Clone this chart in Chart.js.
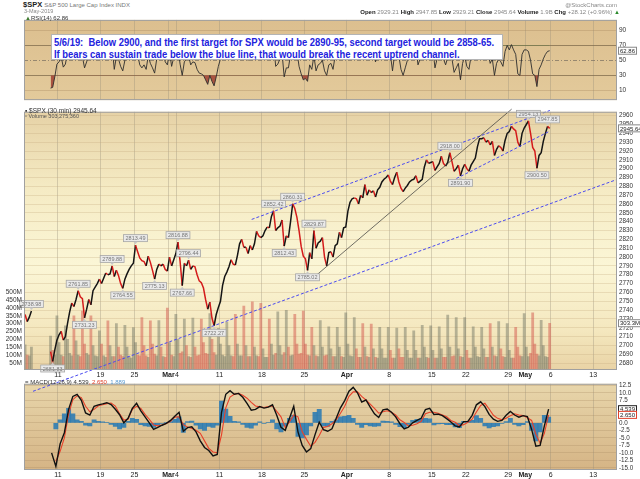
<!DOCTYPE html>
<html>
<head>
<meta charset="utf-8">
<script src="https://cdn.jsdelivr.net/npm/chart.js@4.4.1/dist/chart.umd.min.js"></script>
<style>
  body { margin: 0; background: #fff; font-family: 'Liberation Sans', Arial, sans-serif; }
  #wrap { position: relative; width: 640px; height: 479px; overflow: hidden; }
  canvas { position: absolute; left: 0; }
  .t { position: absolute; white-space: nowrap; line-height: 1; }
  #note { position: absolute; left: 51px; top: 34px; width: 452px; height: 26px; background: #fff;
          border: 1px solid #b4b4b4; box-sizing: border-box; color: #2222dd;
          font: bold 10px 'Liberation Sans Narrow', 'Liberation Sans', sans-serif; padding: 2px 0 0 2px; }
  #note span { display: inline-block; transform-origin: left center; white-space: nowrap; line-height: 10.5px; }
</style>
</head>
<body>
<div id="wrap">
  <canvas id="rsi" width="640" height="92" style="top:14px"></canvas>
  <canvas id="main" width="640" height="273" style="top:106px"></canvas>
  <canvas id="macd" width="640" height="101" style="top:378px"></canvas>

  <div class="t" style="left:23px;top:1px;font-size:7.5px;color:#222"><b>$SPX</b> <span style="color:#777;font-size:6px">S&amp;P 500 Large Cap Index INDX</span></div>
  <div class="t" style="left:24px;top:8.5px;font-size:5.5px;color:#888">3-May-2019</div>
  <div class="t" style="right:23px;top:2px;font-size:6px;color:#888">@StockCharts.com</div>
  <div class="t" style="right:20px;top:8.5px;font-size:6px;color:#888"><b style="color:#222">Open</b> 2929.21 <b style="color:#222">High</b> 2947.85 <b style="color:#222">Low</b> 2929.21 <b style="color:#222">Close</b> 2945.64 <b style="color:#222">Volume</b> 1.9B <b style="color:#222">Chg</b> +28.12 (+0.96%) <span style="color:#2a8a2a">&#9650;</span></div>

  <div class="t" style="left:25px;top:15px;font-size:6px;color:#333"><span style="color:#3d7a2e">&#9650;</span>RSI(14) 62.86</div>
  <div class="t" style="left:25px;top:108px;font-size:6.5px;color:#333">&#9642; $SPX (30 min) 2945.64</div>
  <div class="t" style="left:25px;top:114px;font-size:5.5px;color:#555">&#9643; Volume 303,275,360</div>
  <div class="t" style="left:25px;top:379px;font-size:6px;color:#333">= MACD(12,26,9) 4.539<span style="color:#e0402a">, 2.650</span><span style="color:#5a9ad0">, 1.889</span></div>

  <div id="note">
    <span id="l1">5/6/19:&nbsp; Below 2900, and the first target for SPX would be 2890-95, second target would be 2858-65.</span><br>
    <span id="l2">If bears can sustain trade below the blue line, that would break the recent uptrend channel.</span>
  </div>
</div>

<script>
// trading days, Feb 5 .. May 3 (x = day index)
const tradingDays = ['Feb 5','Feb 6','Feb 7','Feb 8','Feb 11','Feb 12','Feb 13','Feb 14','Feb 15','Feb 19',
  'Feb 20','Feb 21','Feb 22','Feb 25','Feb 26','Feb 27','Feb 28','Mar 1','Mar 4','Mar 5','Mar 6','Mar 7','Mar 8',
  'Mar 11','Mar 12','Mar 13','Mar 14','Mar 15','Mar 18','Mar 19','Mar 20','Mar 21','Mar 22','Mar 25','Mar 26',
  'Mar 27','Mar 28','Mar 29','Apr 1','Apr 2','Apr 3','Apr 4','Apr 5','Apr 8','Apr 9','Apr 10','Apr 11','Apr 12',
  'Apr 15','Apr 16','Apr 17','Apr 18','Apr 22','Apr 23','Apr 24','Apr 25','Apr 26','Apr 29','Apr 30','May 1',
  'May 2','May 3'];

const tickDays   = [4, 9, 13, 17, 18, 23, 28, 33, 38, 43, 48, 52, 57, 59, 62, 67];
const tickLabels = ['11','19','25','Mar','4','11','18','25','Apr','8','15','22','29','May','6','13'];
const monthLabels = ['Mar', 'Apr', 'May'];

const priceTicks = [2680,2690,2700,2710,2720,2730,2740,2750,2760,2770,2780,2790,2800,2810,2820,2830,
  2840,2850,2860,2870,2880,2890,2900,2910,2920,2930,2940,2950,2960];
const volTicks  = [50,100,150,200,250,300,350,400,450,500];
const rsiTicks  = [10,30,50,70,90];
const macdTicks = [-15,-12.5,-10,-7.5,-5,-2.5,0,2.5,5,7.5,10,12.5];

// SPX, four samples per trading day
const spxPrice = [
  [2735,2727,2732,2738.98],[null,null,null,null],[null,null,null,null],[2693,2681.83,2695,2706],
  [2712,2716,2706,2710],[2725,2738,2748,2744],[2752,2761.85,2755,2753],[2731.23,2741,2752,2746],
  [2762,2766,2770,2775],[2770,2776,2782,2780],[2781,2789.88,2778,2785],[2779,2770,2764.55,2775],
  [2781,2786,2790,2793],[2813.49,2806,2799,2796],[2795,2790,2801,2794],[2785,2775.13,2786,2792],
  [2790,2792,2786,2784],[2800,2790,2797,2804],[2816.88,2795,2767.66,2793],[2790,2796.44,2786,2790],
  [2789,2780,2773,2771],[2765,2752,2741,2749],[2731,2722.27,2735,2743],[2750,2768,2778,2783],
  [2789,2797,2792,2791],[2802,2815,2820,2811],[2811,2804,2813,2808],[2815,2829,2824,2822],
  [2824,2830,2834,2833],[2846,2852.42,2830,2833],[2835,2842,2812.43,2824],[2822,2840,2860.31,2855],
  [2845,2830,2812,2801],[2798,2785.02,2805,2798],[2829.87,2810,2816,2818],[2822,2800,2790,2805],
  [2806,2800,2813,2815],[2828,2822,2833,2834],[2852,2862,2866,2867],[2866,2860,2870,2867],
  [2882,2870,2876,2873],[2875,2868,2876,2879],[2885,2888,2890,2893],[2886,2882,2890,2896],
  [2885,2878,2874,2878],[2881,2885,2887,2888],[2892,2884,2886,2888],[2902,2910,2906,2907],
  [2908,2898,2902,2906],[2914,2906,2903,2907],[2918,2908,2897,2900],[2904,2891.9,2900,2905],
  [2900,2897,2904,2908],[2912,2925,2934,2934],[2935,2930,2932,2927],[2931,2915,2922,2926],
  [2924,2920,2932,2940],[2942,2948,2945,2943],[2930,2925,2940,2946],[2950,2954.13,2940,2924],
  [2920,2900.5,2915,2918],[2931,2940,2947.85,2945.64]
];

// volume in millions, four bars per day (last bar = closing spike)
const spxVolume = [
  [165,100,95,150],[null,null,null,null],[null,null,null,null],[220,130,100,350],
  [180,100,90,287],[200,110,95,350],[190,100,90,381],[170,110,100,350],[160,95,90,255],[170,95,85,318],
  [160,90,90,300],[150,100,90,290],[150,90,80,275],[180,100,95,339],[160,95,85,318],[170,105,95,320],
  [150,90,85,400],[180,100,90,360],[200,110,120,329],[160,90,85,335],[150,95,100,329],[180,110,105,365],
  [200,115,100,270],[170,100,90,310],[160,95,90,360],[170,95,95,412],[160,90,90,440],[150,95,90,430],
  [140,85,85,330],[170,100,110,375],[160,100,115,385],[150,95,100,360],[170,105,110,380],[170,100,95,276],
  [160,95,90,320],[150,95,100,280],[140,90,90,276],[150,90,85,370],[170,95,90,339],[140,85,85,301],
  [150,90,85,297],[140,85,80,276],[140,80,80,276],[130,80,80,272],[140,85,85,276],[130,80,80,255],
  [130,80,80,290],[150,85,80,286],[130,80,80,280],[140,85,85,355],[150,90,95,339],[140,90,85,339],
  [130,80,80,280],[150,90,85,276],[140,85,85,301],[150,95,90,314],[140,90,85,301],[130,80,80,276],
  [150,95,90,364],[150,90,110,370],[170,105,95,322],[160,90,85,303]
];

// RSI(14), four samples per day
const rsiValues = [
  [null,null,null,null],[null,null,null,null],[null,null,null,null],[13,14,28,45],
  [48,55,41,45],[62,70,72,68],[66,70,58,55],[40,48,60,55],[62,63,66,70],[58,62,66,63],
  [62,68,38,55],[52,42,36,50],[56,62,66,68],[74,58,44,40],[44,38,56,46],[40,33,52,58],
  [57,60,48,44],[62,42,54,62],[66,45,30,48],[52,56,44,48],[47,38,33,32],[30,24,18,30],
  [22,16,28,42],[52,66,72,74],[72,74,66,64],[68,74,76,60],[58,50,62,56],[60,70,64,62],
  [62,66,68,67],[72,74,42,45],[52,60,28,40],[40,58,74,70],[62,42,32,24],[26,22,44,38],
  [56,36,44,46],[50,36,30,44],[46,38,56,58],[62,52,64,64],[72,76,76,75],[70,58,70,64],
  [79,56,62,58],[58,48,60,64],[66,68,70,72],[58,36,58,68],[56,38,30,40],[50,60,64,66],
  [68,44,52,55],[70,76,64,66],[66,40,52,60],[70,52,44,54],[68,52,34,40],[46,24,46,56],
  [42,38,56,62],[66,76,81,76],[72,54,60,46],[52,30,46,52],[48,42,62,70],[64,71,64,58],
  [32,30,58,64],[64,62,50,32],[30,15,38,44],[52,58,62,62.86]
];

// MACD(12,26,9), two samples per day
const macdLine = [
  [null,null],[null,null],[null,null],[-10,-14.5],[-7,-3.3],[4.5,8.8],[9.5,7.5],[3.3,2.6],[5.5,6],[6.3,6.7],
  [6.1,4.5],[2.7,0],[1.5,4.8],[6.5,4],[2,0],[-2.2,-1.5],[-0.8,-0.2],[0.8,2.2],[3.5,-2.8],[-1.6,-1.3],
  [-3,-6],[-8.2,-9.2],[-11,-10.5],[3.5,9.5],[10.7,9.5],[9.8,8.5],[6.5,4.2],[4.5,5.4],[4.9,5.2],[6,2.5],
  [-1.5,-2.5],[1.5,5.5],[-3,-7.5],[-9.7,-8.6],[-4,0.2],[-2.3,-2.8],[-2,1.5],[5,7.4],[10.5,11.8],[10,6.9],
  [7.6,5.2],[3,1.8],[4.3,4.6],[3.5,2],[-0.3,-2],[-1.4,0],[0.8,1.5],[4.4,4.8],[2.8,2.9],[2.4,1.4],
  [0.3,-1],[-1.4,0.4],[0.5,2.5],[6,7],[5.4,2.8],[1.2,0.5],[0.8,2.5],[3.8,2.6],[1.9,2.4],[2.1,-2.2],
  [-7.8,-7.5],[-1,4.54]
];
const macdSignal = [
  [null,null],[null,null],[null,null],[null,-12.8],[-9.5,-5],[2.9,7.7],[9,8.4],[5.5,3.7],[4.5,5.7],[6,6.4],
  [6.6,5.6],[3,0.9],[1.2,4.5],[5.5,4.8],[2.8,1.2],[-0.7,-1],[-0.7,-0.2],[0.5,1.9],[2,-0.6],[-1.4,-1.9],
  [-2.5,-3.5],[-6,-8.5],[-9.7,-10],[-4,5],[8.6,9.5],[9.8,9.2],[8.2,6.8],[5.6,5.3],[5.1,5.4],[5.6,3.8],
  [2,-1.6],[0.3,2.6],[2,-3],[-5.5,-7.8],[-6.5,-4.2],[-1.5,-1.2],[-0.3,1],[3.2,5.5],[8.8,10.3],[10.3,8.8],
  [7.6,6.2],[4.8,3.2],[3.7,4],[3.5,2.6],[1,0.1],[-1,-0.8],[-0.3,0.5],[3,3.5],[3.5,3.2],[2.6,2],
  [0.8,0.2],[-0.9,-0.6],[0.2,1.2],[3.6,5.8],[6.5,4.6],[2.5,1.5],[1,1.5],[2.4,3],[2.6,2.4],[1.7,0.8],
  [-3.8,-6.8],[-3.5,2.65]
];
const macdHist = [
  [null,null],[null,null],[null,null],[null,-2],[1,3],[4.8,3],[1,0.5],[-0.8,-1],[1,0.5],[0.3,0.2],
  [-0.5,-1.2],[-2,-1.5],[0.5,1.5],[1.2,-0.6],[-1,-1.2],[-1.5,-0.8],[-0.2,0.1],[0.4,1.2],[2,-3.2],[0.4,0.6],
  [-0.8,-2],[-2.5,-1.2],[-1.5,-0.8],[7.2,4.6],[2.2,0.5],[0.3,-0.5],[-1.5,-1.8],[-0.8,0.3],[-0.2,0.2],[1,-2],
  [-3,-1],[1.5,2.5],[-4.5,-5],[-4,-1],[3.5,4.5],[-1,-1.2],[0.5,1],[2,2.2],[2.5,1.5],[-0.5,-1.5],
  [-0.6,-1],[-1.2,-1],[0.6,0.5],[0.3,-0.5],[-1.3,-1.6],[-0.5,0.8],[1.2,1.3],[1.5,1.3],[-0.7,-0.4],[-0.3,-0.6],
  [-0.6,-1.4],[-1.6,0.5],[0.4,0.8],[2.4,1.5],[-1,-1.7],[-1.3,-1],[-0.2,0.4],[1.5,-0.5],[-1,-0.6],[0.4,-2.5],
  [-6,-3],[2.5,1.9]
];

// daily high / low annotations
const tagDays   = [0.875,3.375,6.375,7.125,10.375,11.625,13.125,15.375,18.125,18.625,19.375,22.375,
                   29.375,30.625,31.625,33.375,34.125,50.125,51.375,59.375,60.375,61.625];
const tagValues = [2738.98,2681.83,2761.85,2731.23,2789.88,2764.55,2813.49,2775.13,2816.88,2767.66,2796.44,
                   2722.27,2852.42,2812.43,2860.31,2785.02,2829.87,2918.00,2891.90,2954.13,2900.50,2947.85];
const tagIsHigh = [1,0,1,0,1,0,1,0,1,0,1,0,1,0,1,0,1,1,0,1,0,1];

// hand drawn trend lines (day index, price)
const trendFromDay   = [26.8, 50.9, 1.06, 34.35];
const trendFromPrice = [2842.6, 2888.9, 2648.1, 2778.9];
const trendToDay     = [61.9, 61.9, 69.8, 57.4];
const trendToPrice   = [2965.9, 2942.6, 2887.8, 2967.4];
const trendColor = ['#4a4af0', '#4a4af0', '#4a4af0', '#333'];
const trendDash  = [[3, 2], [3, 2], [3, 2], []];

function flatten(rows) {
  const out = [];
  rows.forEach((row, d) => row.forEach((v, k) => out.push({ x: d + (k + 0.5) / row.length, y: v })));
  return out;
}

const pricePts = flatten(spxPrice);
const volPts = flatten(spxVolume);
const volColors = pricePts.map((p, i) => {
  const prev = i > 0 ? pricePts[i - 1].y : null;
  return (prev !== null && p.y !== null && p.y < prev) ? 'rgba(214,98,86,0.55)' : 'rgba(118,122,104,0.5)';
});

Chart.defaults.font.family = "'Liberation Sans', Arial, sans-serif";

const panelBg = {
  id: 'panelBg',
  beforeDraw(chart, args, opts) {
    const { ctx, chartArea: a } = chart;
    const g = ctx.createLinearGradient(0, a.top, 0, a.bottom);
    opts.stops.forEach(s => g.addColorStop(s[0], s[1]));
    ctx.save();
    ctx.fillStyle = g;
    ctx.fillRect(a.left, a.top, a.width, a.height);
    ctx.restore();
  },
  afterDraw(chart) {
    const { ctx, chartArea: a } = chart;
    ctx.save();
    ctx.strokeStyle = '#a0a0a0';
    ctx.lineWidth = 1;
    ctx.strokeRect(a.left + 0.5, a.top + 0.5, a.width - 1, a.height - 1);
    ctx.restore();
  }
};
Chart.register(panelBg);

const fixW = w => s => { s.width = w; };
const fixH = h => s => { s.height = h; };

function xAxis(showLabels) {
  return {
    type: 'linear', min: 0, max: 69.8, offset: false,
    afterBuildTicks: s => { s.ticks = tickDays.map(v => ({ value: v })); },
    ticks: {
      display: showLabels, autoSkip: false, maxRotation: 0, padding: 1, color: '#222',
      callback: v => tickLabels[tickDays.indexOf(v)],
      font: c => ({ size: 7, weight: c.tick && monthLabels.includes(c.tick.label) ? 'bold' : 'normal' })
    },
    grid: { color: 'rgba(150,140,120,0.35)', drawTicks: false, offset: false },
    border: { display: false },
    afterFit: fixH(showLabels ? 9 : 0)
  };
}

function valueTag(ctx, x, y, text, border) {
  ctx.save();
  ctx.font = "6px 'Liberation Sans'";
  const w = ctx.measureText(text).width + 4;
  ctx.fillStyle = '#fff';
  ctx.fillRect(x, y - 4, w, 8);
  ctx.strokeStyle = border;
  ctx.lineWidth = 1;
  ctx.strokeRect(x + 0.5, y - 3.5, w - 1, 7);
  ctx.fillStyle = '#222';
  ctx.textBaseline = 'middle';
  ctx.fillText(text, x + 2, y + 0.5);
  ctx.restore();
}

function drawTrends(ctx, xs, ys, dy) {
  trendFromDay.forEach((d0, i) => {
    ctx.save();
    ctx.strokeStyle = trendColor[i];
    ctx.lineWidth = i === 3 ? 0.7 : 1;
    ctx.setLineDash(trendDash[i]);
    ctx.beginPath();
    ctx.moveTo(xs.getPixelForValue(d0), ys.getPixelForValue(trendFromPrice[i]) + dy);
    ctx.lineTo(xs.getPixelForValue(trendToDay[i]), ys.getPixelForValue(trendToPrice[i]) + dy);
    ctx.stroke();
    ctx.restore();
  });
}

function hiLoTag(ctx, px, py, text, high) {
  ctx.save();
  ctx.font = "5.5px 'Liberation Sans'";
  const w = ctx.measureText(text).width + 4, h = 7;
  const cy = high ? py - 7 : py + 7;
  ctx.fillStyle = '#e9e9e9';
  ctx.strokeStyle = '#a6a6a6';
  ctx.lineWidth = 0.8;
  ctx.fillRect(px - w / 2, cy - h / 2, w, h);
  ctx.strokeRect(px - w / 2, cy - h / 2, w, h);
  const edge = high ? cy + h / 2 : cy - h / 2;
  ctx.beginPath();
  ctx.moveTo(px - 2, edge);
  ctx.lineTo(px, high ? py - 1 : py + 1);
  ctx.lineTo(px + 2, edge);
  ctx.fillStyle = '#c8c8c8';
  ctx.fill();
  ctx.fillStyle = '#777';
  ctx.textAlign = 'center';
  ctx.textBaseline = 'middle';
  ctx.fillText(text, px, cy + 0.5);
  ctx.restore();
}

const mainMarks = {
  id: 'mainMarks',
  afterDatasetsDraw(chart) {
    const { ctx, scales } = chart;
    drawTrends(ctx, scales.x, scales.y, 0);
    tagDays.forEach((d, i) => {
      hiLoTag(ctx, scales.x.getPixelForValue(d), scales.y.getPixelForValue(tagValues[i]),
              tagValues[i].toFixed(2), tagIsHigh[i] === 1);
    });
  },
  afterDraw(chart) {
    const { ctx, scales, chartArea } = chart;
    // volume axis labels, right-aligned against the panel's left edge
    ctx.save();
    ctx.font = "6.5px 'Liberation Sans'";
    ctx.fillStyle = '#333';
    ctx.textAlign = 'right';
    ctx.textBaseline = 'middle';
    volTicks.forEach(v => ctx.fillText(v + 'M', chartArea.left - 2, scales.vol.getPixelForValue(v)));
    ctx.restore();
    const last = pricePts[pricePts.length - 1].y;
    valueTag(ctx, chartArea.right + 1, scales.y.getPixelForValue(last), last.toFixed(2), '#888');
    const lastVol = volPts[volPts.length - 1].y;
    valueTag(ctx, chartArea.right + 1, scales.vol.getPixelForValue(lastVol), '303.3M', '#888');
  }
};

const rsiPts = flatten(rsiValues);

const rsiMarks = {
  id: 'rsiMarks',
  beforeDatasetsDraw(chart) {
    const { ctx, scales, chartArea: a } = chart;
    ctx.save();
    ctx.lineWidth = 1;
    ctx.strokeStyle = 'rgba(125,105,75,0.75)';
    [30, 70].forEach(v => {
      const y = Math.round(scales.y.getPixelForValue(v)) + 0.5;
      ctx.beginPath(); ctx.moveTo(a.left, y); ctx.lineTo(a.right, y); ctx.stroke();
    });
    ctx.setLineDash([4, 2, 1, 2]);
    ctx.strokeStyle = 'rgba(120,110,95,0.7)';
    const y50 = Math.round(scales.y.getPixelForValue(50)) + 0.5;
    ctx.beginPath(); ctx.moveTo(a.left, y50); ctx.lineTo(a.right, y50); ctx.stroke();
    ctx.restore();
  },
  afterDraw(chart) {
    const { ctx, scales, chartArea } = chart;
    const last = rsiPts[rsiPts.length - 1].y;
    valueTag(ctx, chartArea.right + 1, scales.y.getPixelForValue(last), last.toFixed(2), '#888');
  }
};

new Chart(document.getElementById('rsi'), {
  type: 'line',
  data: {
    datasets: [
      { data: rsiPts, borderColor: '#2c2c2c', borderWidth: 0.9, pointRadius: 0, spanGaps: false, order: 1 },
      { data: rsiPts, borderWidth: 0, pointRadius: 0, spanGaps: false, order: 2,
        fill: { target: { value: 30 }, above: 'rgba(0,0,0,0)', below: 'rgba(160,62,48,0.85)' } },
      { data: rsiPts, borderWidth: 0, pointRadius: 0, spanGaps: false, order: 3,
        fill: { target: { value: 70 }, above: 'rgba(60,125,55,0.85)', below: 'rgba(0,0,0,0)' } }
    ]
  },
  options: {
    responsive: false, animation: false, events: [],
    layout: { padding: { left: 24, top: 0, right: 0, bottom: 0 } },
    plugins: { legend: { display: false }, tooltip: { enabled: false },
               panelBg: { stops: [[0, '#dcbf8f'], [1, '#e3ca9b']] } },
    scales: {
      x: xAxis(false),
      y: {
        type: 'linear', position: 'right', min: -3, max: 104,
        afterBuildTicks: s => { s.ticks = rsiTicks.map(v => ({ value: v })); },
        ticks: { autoSkip: false, font: { size: 6.5 }, color: '#333', padding: 2, callback: v => String(v) },
        grid: { color: c => (c.tick && (c.tick.value === 10 || c.tick.value === 90)) ? 'rgba(165,135,95,0.35)' : 'rgba(0,0,0,0)', drawTicks: false },
        border: { display: false },
        afterFit: fixW(23)
      }
    }
  },
  plugins: [rsiMarks]
});

const mainChart = new Chart(document.getElementById('main'), {
  type: 'line',
  data: {
    datasets: [
      { type: 'line', label: '$SPX', data: pricePts, yAxisID: 'y', borderWidth: 1.5, pointRadius: 0,
        tension: 0, spanGaps: false, borderColor: '#151515', order: 1,
        segment: { borderColor: c => c.p1.parsed.y < c.p0.parsed.y ? '#d41b1b' : '#151515' } },
      { type: 'bar', label: 'Volume', data: volPts, yAxisID: 'vol', backgroundColor: volColors,
        barPercentage: 1, categoryPercentage: 1, order: 2 }
    ]
  },
  options: {
    responsive: false, animation: false, events: [],
    layout: { padding: { top: 1, left: 0, right: 0, bottom: 0 } },
    plugins: { legend: { display: false }, tooltip: { enabled: false },
               panelBg: { stops: [[0, '#e6d2a6'], [0.3, '#f5ebc4'], [0.6, '#fbf6d6'], [0.85, '#f4e7be'], [1, '#e9d3a5']] } },
    scales: {
      x: xAxis(true),
      y: {
        type: 'linear', position: 'right', min: 2672.2, max: 2964.4,
        afterBuildTicks: s => { s.ticks = priceTicks.map(v => ({ value: v })); },
        ticks: { autoSkip: false, font: { size: 6.3 }, color: '#333', padding: 2, callback: v => String(v) },
        grid: { color: 'rgba(195,170,125,0.3)', drawTicks: false },
        border: { display: false },
        afterFit: fixW(23)
      },
      vol: {
        type: 'linear', position: 'left', min: 4, max: 1654,
        ticks: { display: false },
        grid: { display: false },
        border: { display: false },
        afterFit: fixW(24)
      }
    }
  },
  plugins: [mainMarks]
});

const macdMarks = {
  id: 'macdMarks',
  afterDatasetsDraw(chart) {
    const dy = mainChart.canvas.offsetTop - chart.canvas.offsetTop;
    drawTrends(chart.ctx, mainChart.scales.x, mainChart.scales.y, dy);
  },
  afterDraw(chart) {
    const { ctx, scales, chartArea } = chart;
    valueTag(ctx, chartArea.right + 1, scales.y.getPixelForValue(4.539), '4.539', '#222');
    valueTag(ctx, chartArea.right + 1, scales.y.getPixelForValue(2.650), '2.650', '#e0402a');
  }
};

new Chart(document.getElementById('macd'), {
  type: 'line',
  data: {
    datasets: [
      { type: 'line', data: flatten(macdLine), borderColor: '#111', borderWidth: 1.4, pointRadius: 0, order: 1 },
      { type: 'line', data: flatten(macdSignal), borderColor: '#e8402a', borderWidth: 1.1, pointRadius: 0, order: 2 },
      { type: 'bar', data: flatten(macdHist), backgroundColor: 'rgba(36,120,180,0.85)',
        barPercentage: 1, categoryPercentage: 1, order: 3 }
    ]
  },
  options: {
    responsive: false, animation: false, events: [],
    layout: { padding: { left: 24, top: 0, right: 0, bottom: 0 } },
    plugins: { legend: { display: false }, tooltip: { enabled: false },
               panelBg: { stops: [[0, '#e8d6ab'], [1, '#d5b485']] } },
    scales: {
      x: xAxis(true),
      y: {
        type: 'linear', position: 'right', min: -15.7, max: 13.0,
        afterBuildTicks: s => { s.ticks = macdTicks.map(v => ({ value: v })); },
        ticks: { autoSkip: false, font: { size: 6.3 }, color: '#333', padding: 2, callback: v => v.toFixed(1) },
        grid: { color: 'rgba(170,140,100,0.3)', drawTicks: false },
        border: { display: false },
        afterFit: fixW(23)
      }
    }
  },
  plugins: [macdMarks]
});

// squeeze the note text to the width it has in the picture
const l1 = document.getElementById('l1');
const l2 = document.getElementById('l2');
const k = 440 / l1.getBoundingClientRect().width;
[l1, l2].forEach(el => { el.style.transform = 'scaleX(' + k + ')'; });
</script>
</body>
</html>
